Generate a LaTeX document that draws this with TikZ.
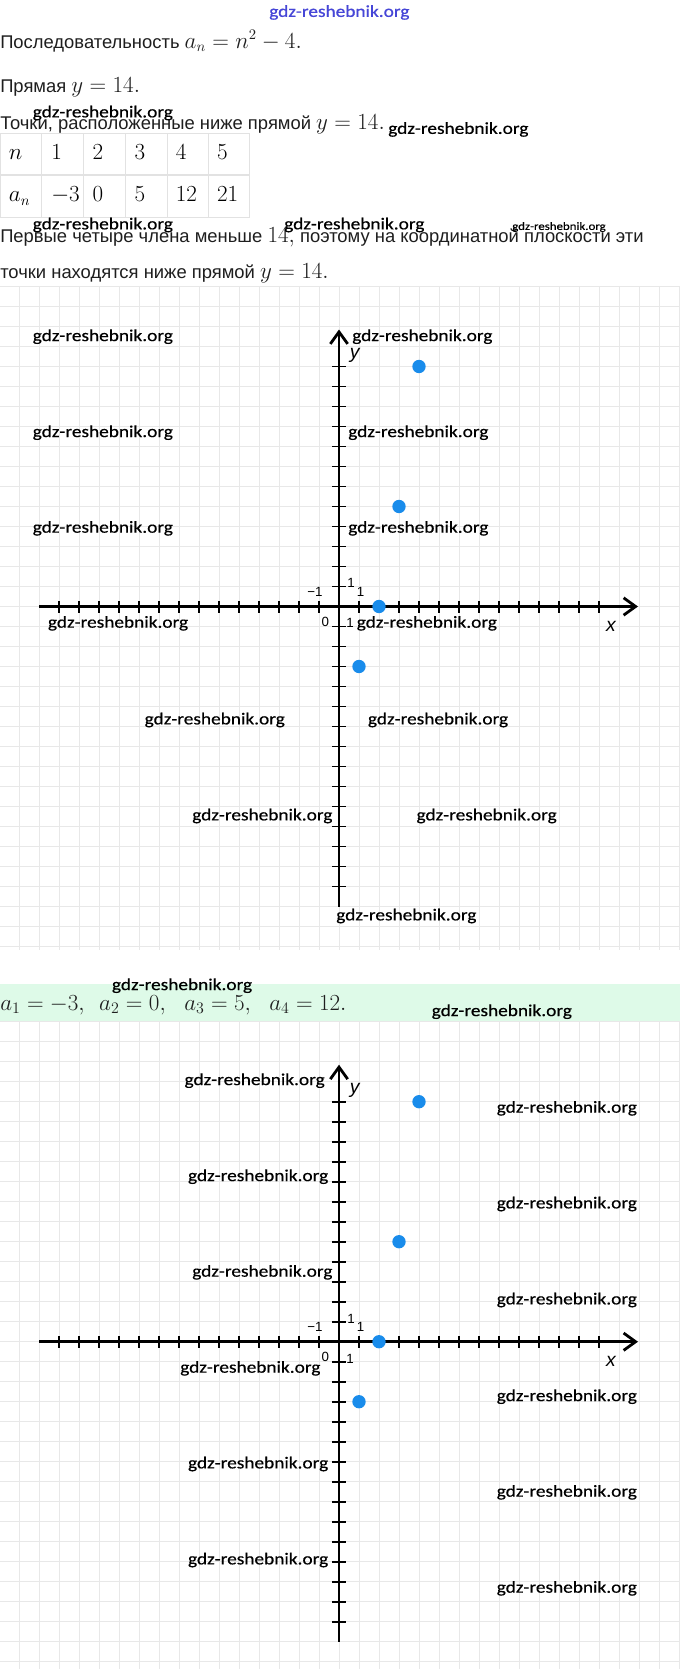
\documentclass[tikz,border=0pt]{standalone}
\usepackage{fontspec}
\setmainfont{Liberation Sans}
\newfontfamily\wmfont[FakeStretch=1.15,FakeBold=0.4]{Carlito}
\newfontfamily\wmtopfont[FakeStretch=1.15,FakeBold=0.7]{Carlito}
\usetikzlibrary{arrows.meta}
\definecolor{txt}{RGB}{30,30,30}
\definecolor{gridc}{RGB}{232,232,232}
\definecolor{dotc}{RGB}{25,140,235}
\definecolor{bandc}{RGB}{222,250,232}
\definecolor{tblc}{RGB}{226,226,226}
\definecolor{wmblue}{RGB}{70,70,215}
\newcommand\Mth[1]{{\fontsize{16}{19}\selectfont$#1$}}
\newcommand\Mbig[1]{{\fontsize{17}{20}\selectfont$#1$}}
\tikzset{
  txtnode/.style={anchor=base west, inner sep=0, text=txt, font=\fontsize{13.8}{16}\selectfont},
  wm/.style={anchor=west, inner sep=0, text=black, font=\wmfont\fontsize{12.6}{15}\selectfont},
  wmsmall/.style={anchor=west, inner sep=0, text=black, font=\wmfont\fontsize{8.4}{10}\selectfont},
  wmtop/.style={anchor=west, inner sep=0, text=wmblue, font=\wmtopfont\fontsize{12.6}{15}\selectfont},
  gridline/.style={draw=gridc, line width=0.75pt},
  axisline/.style={line width=2.1pt, -{Straight Barb[length=9pt,width=13pt]}},
  tickline/.style={line width=1.4pt},
  ticklbl/.style={inner sep=0, font=\fontsize{10}{12}\selectfont},
  axlbl/.style={inner sep=0, font=\fontsize{14.5}{16}\selectfont\itshape},
  dotnode/.style={circle, fill=dotc, inner sep=0, minimum size=10pt},
  tblline/.style={draw=tblc, line width=0.8pt},
  cellnode/.style={anchor=base west, inner sep=0},
  plane/.pic={
    \draw[axisline] (-15,0) -- (14.95,0);
    \draw[axisline] (0,-15) -- (0,13.85);
    \foreach \k in {-14,...,-1,1,2,...,13} \draw[tickline] (\k,-0.3) -- (\k,0.3);
    \foreach \k in {-14,...,-1,1,2,...,12} \draw[tickline] (-0.35,\k) -- (0.35,\k);
    \node[ticklbl] (-lxm) at (-1.2,0.72) {−1};
    \node[ticklbl] (-ly1) at (0.6,1.16) {1};
    \node[ticklbl] (-lx1) at (1.08,0.72) {1};
    \node[ticklbl] (-lo) at (-0.68,-0.76) {0};
    \node[ticklbl] (-lym) at (0.56,-0.84) {1};
    \node[axlbl] (-ly) at (0.79,12.55) {y};
    \node[axlbl] (-lx) at (13.6,-0.98) {x};
    \node[dotnode] (-d1) at (1,-3) {};
    \node[dotnode] (-d2) at (2,0) {};
    \node[dotnode] (-d3) at (3,5) {};
    \node[dotnode] (-d4) at (4,12) {};
  }
}
\begin{document}
\begin{tikzpicture}[x=0.75pt,y=-0.75pt]
\useasboundingbox (0,0) rectangle (680,1669);
\fill[white] (0,0) rectangle (680,1669);
% grids
\foreach \k in {-17,...,17} \draw[gridline] (339+20*\k,286.5) -- (339+20*\k,950);
\foreach \k in {-16,...,17} \draw[gridline] (0,606.5+20*\k) -- (680,606.5+20*\k);
\fill[bandc] (0,983.5) rectangle (680,1022);
\foreach \k in {-17,...,17} \draw[gridline] (339+20*\k,1022) -- (339+20*\k,1669);
\foreach \k in {-16,...,16} \draw[gridline] (0,1341.7+20*\k) -- (680,1341.7+20*\k);
% text
\node[txtnode] (l1) at (0,48.3) {Последовательность \Mth{a_n = n^2 - 4.}};
\node[txtnode] (l2) at (0,92.7) {Прямая \Mth{y = 14.}};
\node[txtnode] (l3) at (0,130) {Точки, расположенные ниже прямой \Mth{y = 14.}};
\node[txtnode] (l4) at (0,242.3) {Первые четыре члена меньше \Mth{14,} поэтому на координатной плоскости эти};
\node[txtnode] (l5) at (0,278.3) {точки находятся ниже прямой \Mth{y = 14.}};
\node[txtnode] (band) at (0,1010) {\Mbig{a_1 = -3,\hspace{8pt} a_2 = 0,\hspace{11pt} a_3 = 5,\hspace{11pt} a_4 = 12.}};
% table
\draw[tblline] (0.5,133.3) rectangle (249.3,217.3);
\draw[tblline] (0.5,175) -- (249.3,175);
\foreach \xx in {41.2,83.3,125.3,167.4,208.6} \draw[tblline] (\xx,133.3) -- (\xx,217.3);
\node[cellnode] (c11) at (8.7,159.3) {\Mth{n}};
\node[cellnode] (c12) at (51,159.3) {\Mth{1}};
\node[cellnode] (c13) at (92.4,159.3) {\Mth{2}};
\node[cellnode] (c14) at (134.4,159.3) {\Mth{3}};
\node[cellnode] (c15) at (175.6,159.3) {\Mth{4}};
\node[cellnode] (c16) at (216.8,159.3) {\Mth{5}};
\node[cellnode] (c21) at (8.7,201.7) {\Mth{a_n}};
\node[cellnode] (c22) at (51,201.7) {\Mth{-3}};
\node[cellnode] (c23) at (92.4,201.7) {\Mth{0}};
\node[cellnode] (c24) at (134.4,201.7) {\Mth{5}};
\node[cellnode] (c25) at (175.6,201.7) {\Mth{12}};
\node[cellnode] (c26) at (216.8,201.7) {\Mth{21}};
% planes
\begin{scope}[shift={(339,606.5)},x=15pt,y=15pt]
  \pic (g1) at (0,0) {plane};
\end{scope}
\begin{scope}[shift={(339,1341.7)},x=15pt,y=15pt]
  \pic (g2) at (0,0) {plane};
\end{scope}
% watermarks
\node[wmtop] (wt) at (269,12.5) {gdz-reshebnik.org};
\node[wm] (wa) at (32.5,113) {gdz-reshebnik.org};
\node[wm] (wb) at (388,129.5) {gdz-reshebnik.org};
\node[wm] (wc) at (32.5,225) {gdz-reshebnik.org};
\node[wm] (wd) at (284,225) {gdz-reshebnik.org};
\node[wmsmall] (we) at (512,227) {gdz-reshebnik.org};
\node[wm] (p1) at (32.5,336.7) {gdz-reshebnik.org};
\node[wm] (p2) at (352,336.7) {gdz-reshebnik.org};
\node[wm] (p3) at (32.5,432.7) {gdz-reshebnik.org};
\node[wm] (p4) at (348,432.7) {gdz-reshebnik.org};
\node[wm] (p5) at (32.5,528.3) {gdz-reshebnik.org};
\node[wm] (p6) at (348,528.3) {gdz-reshebnik.org};
\node[wm] (p7) at (47.7,623.3) {gdz-reshebnik.org};
\node[wm] (p8) at (356.5,623.3) {gdz-reshebnik.org};
\node[wm] (p9) at (144.4,720) {gdz-reshebnik.org};
\node[wm] (p10) at (367.7,720) {gdz-reshebnik.org};
\node[wm] (p11) at (192,816) {gdz-reshebnik.org};
\node[wm] (p12) at (416.3,816) {gdz-reshebnik.org};
\node[wm] (p13) at (336,916) {gdz-reshebnik.org};
\node[wm] (p14) at (111.7,985.7) {gdz-reshebnik.org};
\node[wm] (p15) at (431.5,1011.7) {gdz-reshebnik.org};
\node[wm] (q1) at (184.3,1080.7) {gdz-reshebnik.org};
\node[wm] (q2) at (496.5,1108.3) {gdz-reshebnik.org};
\node[wm] (q3) at (187.8,1176.7) {gdz-reshebnik.org};
\node[wm] (q4) at (496.5,1204) {gdz-reshebnik.org};
\node[wm] (q5) at (192,1272.3) {gdz-reshebnik.org};
\node[wm] (q6) at (496.5,1300) {gdz-reshebnik.org};
\node[wm] (q7) at (180,1368.3) {gdz-reshebnik.org};
\node[wm] (q8) at (496.5,1396.7) {gdz-reshebnik.org};
\node[wm] (q9) at (187.8,1464) {gdz-reshebnik.org};
\node[wm] (q10) at (496.5,1492.3) {gdz-reshebnik.org};
\node[wm] (q11) at (187.8,1560) {gdz-reshebnik.org};
\node[wm] (q12) at (496.5,1588.3) {gdz-reshebnik.org};
\end{tikzpicture}
\end{document}
